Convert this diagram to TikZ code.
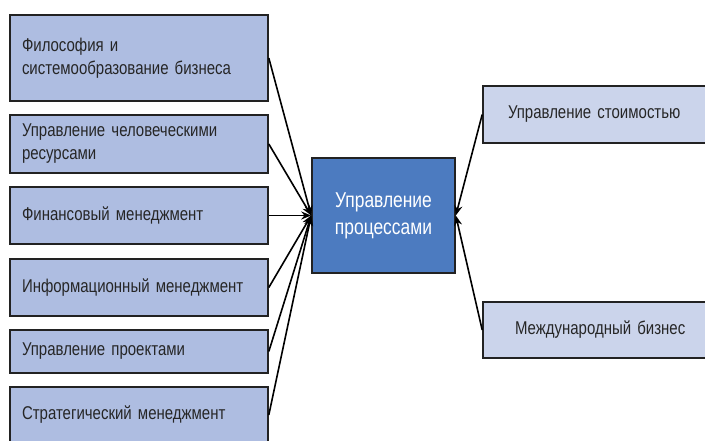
\documentclass[tikz,border=0pt]{standalone}
\usepackage{fontspec}
\setmainfont{Liberation Sans}[FakeStretch=0.81]
\usetikzlibrary{arrows.meta}
\definecolor{leftfill}{HTML}{AEBDE1}
\definecolor{midfill}{HTML}{4C7BC0}
\definecolor{rightfill}{HTML}{CBD4EB}
\definecolor{edgecol}{HTML}{222222}
\begin{document}
\begin{tikzpicture}[x=1pt,y=1pt,
  leftbox/.style={draw=edgecol,line width=1.6pt,fill=leftfill,minimum width=258pt,inner xsep=12pt,
    text width=234pt,align=left,font=\fontsize{18.5}{23}\selectfont,text=black!85},
  midbox/.style={draw=edgecol,line width=1.6pt,fill=midfill,minimum width=143pt,minimum height=115pt,
    align=center,font=\fontsize{21.5}{27}\selectfont,text=white},
  rightbox/.style={draw=edgecol,line width=1.6pt,fill=rightfill,
    align=left,font=\fontsize{18.5}{23}\selectfont,text=black!85},
  conn/.style={draw=black,line width=1.6pt,-{Stealth[length=10pt,width=8pt]}}]
\clip (0,0) rectangle (705,441);
\fill[white] (0,0) rectangle (705,441);
\node[leftbox,minimum height=86pt] (l1) at (139,383) {Философия и\\системообразование бизнеса};
\node[leftbox,minimum height=58pt] (l2) at (139,297) {Управление человеческими\\ресурсами};
\node[leftbox,minimum height=57pt] (l3) at (139,225.5) {Финансовый менеджмент};
\node[leftbox,minimum height=57pt] (l4) at (139,153.5) {Информационный менеджмент};
\node[leftbox,minimum height=43pt] (l5) at (139,89.5) {Управление проектами};
\node[leftbox,minimum height=56pt] (l6) at (139,26) {Стратегический менеджмент};
\node[midbox] (c) at (383.5,225.5) {Управление\\процессами};
\node[rightbox,minimum height=57pt,inner xsep=25pt,text width=192pt,minimum width=242pt] (r1) at (604,326.5) {Управление стоимостью};
\node[rightbox,minimum height=56pt,inner xsep=32pt,text width=178pt,minimum width=242pt] (r2) at (604,111) {Международный бизнес};
\foreach \n in {l1,l2,l3,l4,l5,l6} \draw[conn] (\n.east) -- (c.west);
\draw[conn] (r1.west) -- (c.east);
\draw[conn] (r2.west) -- (c.east);
\end{tikzpicture}
\end{document}
